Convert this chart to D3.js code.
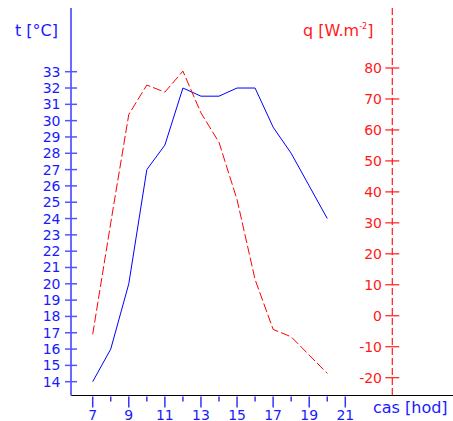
<!DOCTYPE html>
<html>
<head>
<meta charset="utf-8">
<script src="https://cdn.jsdelivr.net/npm/d3@7/dist/d3.min.js"></script>
<style>
  body { margin: 0; background: #fff; }
  svg { display: block; font-family: "DejaVu Sans", sans-serif; }
</style>
</head>
<body>
<svg id="chart"></svg>
<script>
  // hours of the day
  var hours = [7, 8, 9, 10, 11, 12, 13, 14, 15, 16, 17, 18, 19, 20];
  // air temperature t [°C]
  var temp = [14, 16, 20, 27, 28.5, 32, 31.5, 31.5, 32, 32, 29.6, 28, 26, 24];
  // heat flux q [W.m-2]
  var flux = [-6, 30, 65, 74.5, 72.2, 79, 65.5, 56, 37.5, 11.7, -4.4, -6.8, -12.7, -18.6];

  var hourTicks = d3.range(7, 22);
  var tempTicks = d3.range(14, 34);
  var fluxTicks = d3.range(-20, 81, 10);

  var width = 453, height = 421;
  var blue = "#1a1aff", red = "#ff1a1a";

  var svg = d3.select("#chart")
    .attr("width", width)
    .attr("height", height);

  var x = d3.scaleLinear().domain([7, 21]).range([92.7, 345.3]);
  var yT = d3.scaleLinear().domain([14, 33]).range([381.7, 71.7]);
  var yQ = d3.scaleLinear().domain([-20, 80]).range([377.7, 68]);

  var leftX = 71, rightX = 392.3, baseY = 395.5;

  // x axis line
  svg.append("line")
    .attr("x1", leftX).attr("x2", width)
    .attr("y1", baseY).attr("y2", baseY)
    .attr("stroke", "#000").attr("stroke-width", 1);

  // x ticks: long on odd hours, short on even
  svg.append("g")
    .selectAll("line")
    .data(hourTicks)
    .join("line")
    .attr("x1", d => x(d)).attr("x2", d => x(d))
    .attr("y1", baseY + 1)
    .attr("y2", d => baseY + (d % 2 ? 12 : 6))
    .attr("stroke", "#3333ff").attr("stroke-width", 1.5);

  svg.append("g")
    .attr("fill", blue)
    .attr("font-size", 14)
    .attr("text-anchor", "middle")
    .selectAll("text")
    .data(hourTicks.filter(d => d % 2))
    .join("text")
    .attr("x", d => x(d))
    .attr("y", 420)
    .text(d => d);

  svg.append("text")
    .attr("x", 373).attr("y", 413)
    .attr("fill", blue).attr("font-size", 16)
    .text("cas [hod]");

  // left axis (temperature)
  svg.append("line")
    .attr("x1", leftX).attr("x2", leftX)
    .attr("y1", 8).attr("y2", baseY)
    .attr("stroke", "#6a6aff").attr("stroke-width", 2);

  svg.append("g")
    .selectAll("line")
    .data(tempTicks)
    .join("line")
    .attr("x1", leftX - 6).attr("x2", leftX + 6)
    .attr("y1", d => yT(d)).attr("y2", d => yT(d))
    .attr("stroke", "#5555ff").attr("stroke-width", 1.5);

  svg.append("g")
    .attr("fill", blue)
    .attr("font-size", 14)
    .attr("text-anchor", "end")
    .selectAll("text")
    .data(tempTicks)
    .join("text")
    .attr("x", 60.5)
    .attr("y", d => yT(d) + 5)
    .text(d => d);

  svg.append("text")
    .attr("x", 15).attr("y", 36)
    .attr("fill", blue).attr("font-size", 16)
    .text("t [°C]");

  // right axis (heat flux)
  svg.append("line")
    .attr("x1", rightX).attr("x2", rightX)
    .attr("y1", 8).attr("y2", baseY)
    .attr("stroke", red).attr("stroke-width", 1.2)
    .attr("stroke-dasharray", "7,3");

  svg.append("g")
    .selectAll("line")
    .data(fluxTicks)
    .join("line")
    .attr("x1", rightX - 7).attr("x2", rightX + 7)
    .attr("y1", d => yQ(d)).attr("y2", d => yQ(d))
    .attr("stroke", red).attr("stroke-width", 1.2);

  svg.append("g")
    .attr("fill", red)
    .attr("font-size", 14)
    .attr("text-anchor", "end")
    .selectAll("text")
    .data(fluxTicks)
    .join("text")
    .attr("x", 382)
    .attr("y", d => yQ(d) + 5)
    .text(d => d);

  var qLabel = svg.append("text")
    .attr("x", 303).attr("y", 36)
    .attr("fill", red).attr("font-size", 16);
  qLabel.append("tspan").text("q [W.m");
  qLabel.append("tspan").attr("font-size", 8).attr("dy", -7).text("-2");
  qLabel.append("tspan").attr("dy", 7).text("]");

  // data lines
  svg.append("path")
    .datum(hours.map((h, i) => [h, temp[i]]))
    .attr("fill", "none")
    .attr("stroke", "#0000ff")
    .attr("stroke-width", 1)
    .attr("d", d3.line().x(d => x(d[0])).y(d => yT(d[1])));

  svg.append("path")
    .datum(hours.map((h, i) => [h, flux[i]]))
    .attr("fill", "none")
    .attr("stroke", "#ff0000")
    .attr("stroke-width", 1)
    .attr("stroke-dasharray", "9,3")
    .attr("d", d3.line().x(d => x(d[0])).y(d => yQ(d[1])));
</script>
</body>
</html>
